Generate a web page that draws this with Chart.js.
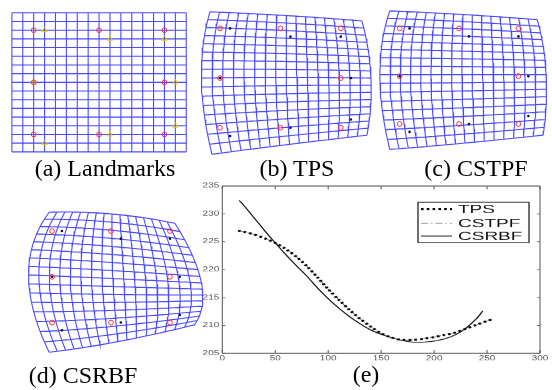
<!DOCTYPE html>
<html>
<head>
<meta charset="utf-8">
<script src="https://cdn.jsdelivr.net/npm/chart.js@4.4.1/dist/chart.umd.min.js"></script>
<style>
  body { margin: 0; width: 552px; height: 390px; overflow: hidden; background: #fff; position: relative; }
  canvas.full { position: absolute; left: 0; top: 0; }
  .cap { position: absolute; font-family: 'Liberation Serif', 'Times New Roman', serif; font-size: 24px;
         line-height: 24px; white-space: nowrap; transform: translateX(-50%); color: #000; }
  #ewrap { position: absolute; left: 190px; top: 176px; width: 362px; height: 297px;
           transform: scaleY(0.64); transform-origin: 0 0; }
</style>
</head>
<body>
<canvas id="pa" class="full" width="552" height="390"></canvas>
<canvas id="pb" class="full" width="552" height="390"></canvas>
<canvas id="pc" class="full" width="552" height="390"></canvas>
<canvas id="pd" class="full" width="552" height="390"></canvas>
<div id="ewrap"><canvas id="pe" width="362" height="297"></canvas></div>
<div class="cap" style="left:105px;top:156px">(a) Landmarks</div>
<div class="cap" style="left:297px;top:156px">(b) TPS</div>
<div class="cap" style="left:476px;top:156px">(c) CSTPF</div>
<div class="cap" style="left:83px;top:363px">(d) CSRBF</div>
<div class="cap" style="left:366px;top:362px">(e)</div>
<script>
// landmarks, in grid cells (the grid is 16 x 16)
var srcX = [2, 8, 14, 2, 14, 2, 8, 14];
var srcY = [2, 2, 2, 8, 8, 14, 14, 14];
var dstX = [3, 9, 14, 2, 15, 15, 3, 9];
var dstY = [2, 3, 3, 8, 8, 13, 15, 14];
var gridCells = 16;

// outline of each warped grid: TL, top-mid, TR, right-mid, BR, bottom-mid, BL, left-mid
var edgeA = [[0, 0], [8, 0], [16, 0], [16, 8], [16, 16], [8, 16], [0, 16], [0, 8]];
var edgeB = [[1.0, 0.0], [8.6, 0.45], [16.1, 1.1], [17.0, 8.0], [16.6, 14.9], [8.9, 16.0], [1.2, 17.2], [0.15, 8.0]];
var edgeC = [[1.0, -0.2], [8.4, 0.25], [15.9, 0.9], [16.8, 7.8], [16.5, 15.4], [8.6, 16.4], [1.0, 17.2], [0.0, 7.8]];
var edgeD = [[1.7, -0.46], [8.1, -0.23], [14.5, 0.98], [17.2, 8.8], [16.5, 14.3], [8.7, 16.5], [1.7, 17.9], [-0.4, 7.75]];

// (e) profile curves
var tpsX = [15, 20, 30, 40, 50, 60, 70, 80, 90, 100, 110, 120, 130, 140, 150, 160, 170, 180, 190, 200, 210, 220, 230, 240, 250, 255];
var tpsY = [227.0, 226.8, 226.3, 225.6, 224.8, 223.7, 222.3, 220.6, 218.6, 216.5, 214.6, 212.8, 211.2, 209.8, 208.6, 207.8, 207.4, 207.4, 207.6, 207.9, 208.3, 208.7, 209.4, 210.1, 210.8, 211.1];
var cstpfY = [227.0, 226.8, 226.3, 225.6, 224.8, 223.7, 222.3, 220.6, 218.6, 216.5, 214.6, 212.8, 211.2, 209.8, 208.6, 207.8, 207.4, 207.4, 207.6, 207.9, 208.3, 208.7, 209.4, 210.1, 210.8, 211.1];
var rbfX = [16, 20, 30, 40, 50, 60, 70, 80, 90, 100, 110, 120, 130, 140, 150, 160, 170, 180, 190, 200, 210, 220, 230, 240, 246];
var rbfY = [232.4, 231.6, 229.3, 227.0, 224.8, 222.7, 220.7, 218.8, 216.7, 214.8, 213.1, 211.6, 210.3, 209.2, 208.4, 207.8, 207.3, 207.0, 207.0, 207.2, 207.6, 208.3, 209.5, 211.2, 212.6];
var xTicks = [0, 50, 100, 150, 200, 250, 300];
var yTicks = [205, 210, 215, 220, 225, 230, 235];

function quad(p0, pm, p1, t) {
  var a = (1 - t) * (1 - 2 * t), b = 4 * t * (1 - t), c = t * (2 * t - 1);
  return [a * p0[0] + b * pm[0] + c * p1[0], a * p0[1] + b * pm[1] + c * p1[1]];
}

// coons patch over the outline
function warp(e, s, t) {
  var top = quad(e[0], e[1], e[2], s), bot = quad(e[6], e[5], e[4], s);
  var lft = quad(e[0], e[7], e[6], t), rgt = quad(e[2], e[3], e[4], t);
  var out = [];
  for (var k = 0; k < 2; k++) {
    out.push((1 - t) * top[k] + t * bot[k] + (1 - s) * lft[k] + s * rgt[k] -
      ((1 - s) * (1 - t) * e[0][k] + s * (1 - t) * e[2][k] + (1 - s) * t * e[6][k] + s * t * e[4][k]));
  }
  return {x: out[0], y: out[1]};
}

function gridPoints(edge) {
  var pts = [], steps = 32;
  for (var i = 0; i <= gridCells; i++) {
    for (var j = 0; j <= steps; j++) pts.push(warp(edge, i / gridCells, j / steps));
    pts.push({x: null, y: null});
    for (var j = 0; j <= steps; j++) pts.push(warp(edge, j / steps, i / gridCells));
    pts.push({x: null, y: null});
  }
  return pts;
}

function pairs(xs, ys) {
  return xs.map(function (x, i) { return {x: x, y: ys[i]}; });
}

// ox/oy: page pixel of grid cell 0, sx/sy: pixels per cell
function panel(id, edge, ox, oy, sx, sy, targetStyle) {
  var target = targetStyle == 'triangle'
    ? {pointStyle: 'triangle', pointRadius: 3, borderColor: '#e0d000', backgroundColor: 'rgba(0,0,0,0)', borderWidth: 1}
    : {pointStyle: 'circle', pointRadius: 1.3, borderColor: '#10103a', backgroundColor: '#10103a', borderWidth: 0};
  new Chart(document.getElementById(id), {
    type: 'scatter',
    data: {
      datasets: [
        {data: pairs(srcX, srcY), pointStyle: 'circle', pointRadius: 2.4, borderColor: '#ff3040',
         backgroundColor: 'rgba(0,0,0,0)', borderWidth: 1},
        Object.assign({data: pairs(dstX, dstY)}, target),
        {data: gridPoints(edge), showLine: true, spanGaps: false, pointRadius: 0,
         borderColor: 'rgba(45,45,255,0.85)', borderWidth: 1.1}
      ]
    },
    options: {
      responsive: false,
      animation: false,
      events: [],
      layout: {padding: 0},
      plugins: {legend: {display: false}, tooltip: {enabled: false}},
      scales: {
        x: {display: false, min: -ox / sx, max: (552 - ox) / sx},
        y: {display: false, reverse: true, min: -oy / sy, max: (390 - oy) / sy}
      }
    }
  });
}

panel('pa', edgeA, 7, 8, 11.1, 8.92, 'triangle');
panel('pb', edgeB, 198.5, 7, 10.25, 8.5, 'dot');
panel('pc', edgeC, 381.8, 7.7, 10.08, 8.17, 'dot');
panel('pd', edgeD, 28, 216.3, 10, 7.83, 'dot');

// matlab style box with inward ticks and boxed legend
var frame = {
  id: 'frame',
  afterDraw: function (chart) {
    var ctx = chart.ctx, a = chart.chartArea, xs = chart.scales.x, ys = chart.scales.y;
    ctx.save();
    ctx.strokeStyle = '#555';
    ctx.lineWidth = 1;
    ctx.beginPath();
    ctx.moveTo(a.left, a.top); ctx.lineTo(a.left, a.bottom);
    ctx.moveTo(a.right, a.top); ctx.lineTo(a.right, a.bottom);
    ys.ticks.forEach(function (t) {
      var py = ys.getPixelForValue(t.value);
      ctx.moveTo(a.left, py); ctx.lineTo(a.left + 3, py);
      ctx.moveTo(a.right, py); ctx.lineTo(a.right - 3, py);
    });
    xs.ticks.forEach(function (t) {
      var px = xs.getPixelForValue(t.value);
      ctx.moveTo(px, a.bottom); ctx.lineTo(px, a.bottom - 5);
      ctx.moveTo(px, a.top); ctx.lineTo(px, a.top + 5);
    });
    ctx.stroke();
    ctx.lineWidth = 1.6;
    ctx.beginPath();
    ctx.moveTo(a.left, a.top); ctx.lineTo(a.right, a.top);
    ctx.moveTo(a.left, a.bottom); ctx.lineTo(a.right, a.bottom);
    ctx.stroke();

    // legend box
    var bx = 228, by = 41, bw = 111, bh = 63;
    ctx.fillStyle = '#fff';
    ctx.fillRect(bx, by, bw, bh);
    ctx.strokeStyle = '#222';
    ctx.lineWidth = 1.3;
    ctx.strokeRect(bx, by, bw, bh);
    var rows = [51.6, 73.9, 93.8];
    ctx.font = '19px "Liberation Sans", Arial, sans-serif';
    ctx.textBaseline = 'middle';
    chart.data.datasets.forEach(function (ds, i) {
      ctx.save();
      ctx.strokeStyle = ds.borderColor;
      ctx.lineWidth = ds.borderWidth;
      ctx.setLineDash(ds.borderDash || []);
      ctx.beginPath();
      ctx.moveTo(bx + 3, rows[i]); ctx.lineTo(bx + 34, rows[i]);
      ctx.stroke();
      ctx.restore();
      ctx.fillStyle = '#111';
      ctx.fillText(ds.label, bx + 40, rows[i] + 1);
    });
    ctx.restore();
  }
};

new Chart(document.getElementById('pe'), {
  type: 'scatter',
  data: {
    datasets: [
      {label: 'TPS', data: pairs(tpsX, tpsY), showLine: true, pointRadius: 0, borderColor: '#000',
       borderWidth: 3.2, borderDash: [2.6, 3.2], tension: 0.3},
      {label: 'CSTPF', data: pairs(tpsX, cstpfY), showLine: true, pointRadius: 0, borderColor: '#555',
       borderWidth: 1, borderDash: [7, 3, 1.5, 3], tension: 0.3},
      {label: 'CSRBF', data: pairs(rbfX, rbfY), showLine: true, pointRadius: 0, borderColor: '#111',
       borderWidth: 1.4, tension: 0.3}
    ]
  },
  options: {
    responsive: false,
    animation: false,
    events: [],
    layout: {padding: {left: 0, right: 12, top: 15.6, bottom: 0}},
    plugins: {legend: {display: false}, tooltip: {enabled: false}},
    scales: {
      x: {
        min: 0, max: 300,
        afterFit: function (s) { s.height = 20; },
        afterBuildTicks: function (s) { s.ticks = xTicks.map(function (v) { return {value: v}; }); },
        grid: {display: false, drawTicks: false},
        border: {display: false},
        ticks: {padding: 2, maxRotation: 0, font: {family: '"Liberation Sans", Arial, sans-serif', size: 10}, color: '#555'}
      },
      y: {
        min: 205, max: 235,
        afterFit: function (s) { s.width = 32.3; },
        afterBuildTicks: function (s) { s.ticks = yTicks.map(function (v) { return {value: v}; }); },
        grid: {display: false, drawTicks: false},
        border: {display: false},
        ticks: {padding: 3, font: {family: '"Liberation Sans", Arial, sans-serif', size: 10}, color: '#555'}
      }
    }
  },
  plugins: [frame]
});
</script>
</body>
</html>
